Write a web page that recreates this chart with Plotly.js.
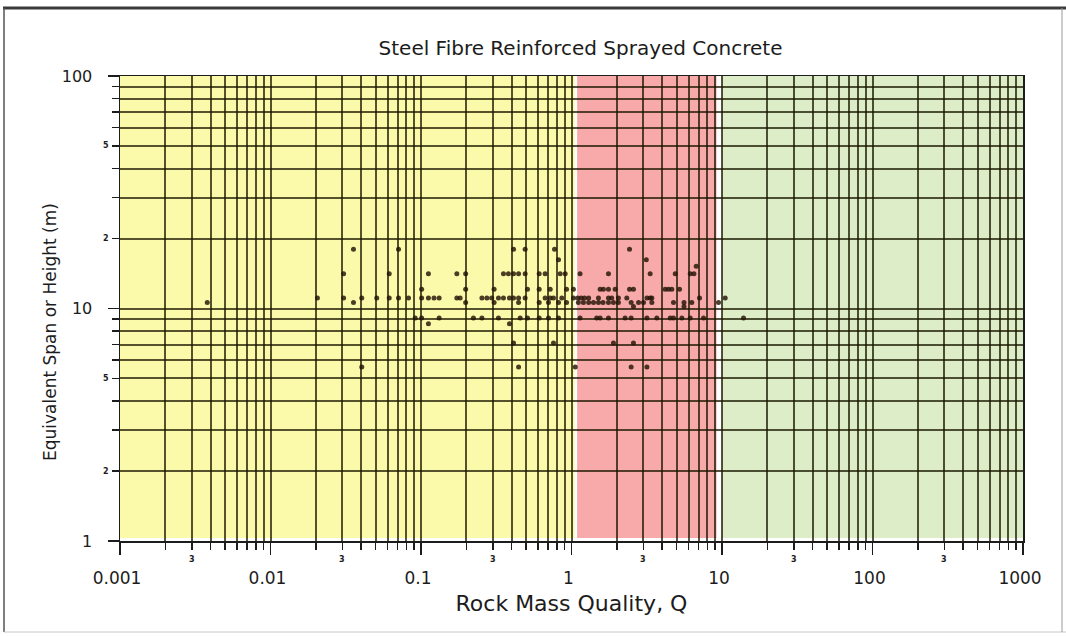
<!DOCTYPE html>
<html>
<head>
<meta charset="utf-8">
<script src="https://cdn.plot.ly/plotly-3.0.1.min.js"></script>
<style>
html,body{margin:0;padding:0;background:#ffffff;}
#chart{width:1066px;height:636px;}
</style>
</head>
<body>
<div id="chart"></div>
<script>
// ---- Data (Q = Rock Mass Quality, span = Equivalent span or height, m) ----
const qValues = [
  0.0038, 0.0205, 0.0306, 0.0306, 0.0356, 0.0356, 0.0404, 0.0404, 0.0508, 0.0615,
  0.0615, 0.0709, 0.0709, 0.0826, 0.0915, 0.101, 0.101, 0.101, 0.112, 0.112,
  0.112, 0.122, 0.132, 0.132, 0.173, 0.198, 0.173, 0.182, 0.198, 0.198,
  0.223, 0.254, 0.254, 0.274, 0.295, 0.327, 0.353, 0.387, 0.412, 0.445,
  0.492, 0.306, 0.306, 0.327, 0.387, 0.353, 0.381, 0.412, 0.445, 0.492,
  0.412, 0.492, 0.412, 0.445, 0.445, 0.456, 0.510, 0.510, 0.610, 0.668,
  0.610, 0.610, 0.703, 0.668, 0.722, 0.759, 0.610, 0.703, 0.820, 0.771,
  0.820, 0.841, 0.908, 0.722, 0.927, 0.759, 0.820, 0.927, 0.862, 1.03,
  1.03, 1.06,
  1.14, 1.76, 2.43, 3.14, 3.33, 4.89, 6.15, 6.51, 6.74,
  1.55, 1.63, 1.76, 1.95, 2.43, 2.58, 4.19, 4.41, 4.64, 5.22,
  1.10, 1.16, 1.22, 1.30, 1.51, 1.76, 1.85, 2.05, 2.33, 3.17, 3.33, 3.42, 7.09, 10.5,
  1.11, 1.20, 1.30, 1.40, 1.51, 1.62, 1.76, 1.90, 2.05, 2.49, 2.79, 3.01, 3.42, 4.76, 5.59, 6.30, 9.48,
  2.58, 5.59,
  1.14, 1.47, 1.55, 1.76, 2.27, 2.49, 3.17, 3.69, 4.53, 4.76, 5.41, 6.15, 7.54, 13.9,
  1.90, 2.58,
  2.49, 3.17
];
const spanValues = [
  10.6, 11.1, 14.1, 11.1, 18.0, 10.6, 5.6, 11.1, 11.1, 14.1,
  11.1, 18.0, 11.1, 11.1, 9.1, 12.1, 11.1, 9.1, 14.1, 11.1,
  8.6, 11.1, 11.1, 9.1, 14.1, 14.1, 11.1, 11.1, 12.1, 10.6,
  9.1, 9.1, 11.1, 11.1, 11.1, 11.1, 11.1, 11.1, 11.1, 11.1,
  11.1, 12.1, 10.6, 9.1, 8.6, 14.1, 14.1, 14.1, 14.1, 14.1,
  18.0, 18.0, 7.1, 10.6, 5.6, 9.1, 9.1, 12.1, 14.1, 14.1,
  12.1, 10.6, 10.6, 11.1, 11.1, 11.1, 9.1, 9.1, 9.1, 18.0,
  16.2, 14.1, 14.1, 12.1, 12.1, 7.1, 10.6, 10.6, 11.1, 12.1,
  11.1, 5.6,
  14.1, 14.1, 18.0, 16.2, 14.1, 14.1, 14.1, 14.1, 15.2,
  12.1, 12.1, 12.1, 12.1, 12.1, 12.1, 12.1, 12.1, 12.1, 12.1,
  11.1, 11.1, 11.1, 11.1, 11.1, 11.1, 11.1, 11.1, 11.1, 11.1, 11.1, 11.1, 11.1, 11.1,
  10.6, 10.6, 10.6, 10.6, 10.6, 10.6, 10.6, 10.6, 10.6, 10.6, 10.6, 10.6, 10.6, 10.6, 10.6, 10.6, 10.6,
  10.2, 10.2,
  9.1, 9.1, 9.1, 9.1, 9.1, 9.1, 9.1, 9.1, 9.1, 9.1, 9.1, 9.1, 9.1, 9.1,
  7.1, 7.1,
  5.6, 5.6
];

// Axis tick labels
const xTickVals = [0.001, 0.01, 0.1, 1, 10, 100, 1000];
const xTickText = ['0.001', '0.01', '0.1', '1', '10', '100', '1000'];
const yTickVals = [1, 10, 100];
const yTickText = ['1', '10', '100'];
const xSubLabelVals = [0.003, 0.03, 0.3, 3, 30, 300];
const xSubLabelText = ['3', '3', '3', '3', '3', '3'];
const ySubLabelVals = [2, 5, 20, 50];
const ySubLabelText = ['2', '5', '2', '5'];

// Support-category zones along Q
const zoneStart = [0.001, 1.09, 10];
const zoneEnd = [1.05, 9.2, 1000];
const zoneBottom = 1.03;
const zoneTop = 100;
const zoneColors = ['#fbfaab', '#f8aaaa', '#dcedc8'];

// Minor grid positions (2..9 in each decade)
function minorVals(d0, d1) {
  const out = [];
  for (let d = d0; d < d1; d++) {
    for (let m = 2; m <= 9; m++) out.push(m * Math.pow(10, d));
  }
  return out;
}

const GRID = 'rgba(25,22,0,0.74)';
const INK = '#1c1c1c';
const FONT = 'DejaVu Sans, Verdana, sans-serif';

const trace = {
  type: 'scatter',
  mode: 'markers',
  x: qValues,
  y: spanValues,
  marker: {size: 5, color: 'rgba(35,20,5,0.82)'},
  hoverinfo: 'x+y'
};

const shapes = [];
for (let i = 0; i < zoneStart.length; i++) {
  shapes.push({
    type: 'rect', layer: 'below', xref: 'x', yref: 'y',
    x0: zoneStart[i], x1: zoneEnd[i],
    y0: zoneBottom, y1: zoneTop,
    fillcolor: zoneColors[i], line: {width: 0}
  });
}
// page frame (scanned figure border)
const px = v => (v - 120) / 903;
const py = v => (541 - v) / 465;
shapes.push({type: 'line', xref: 'paper', yref: 'paper', x0: px(3), x1: px(1066), y0: py(8), y1: py(8), line: {color: '#3a3a3a', width: 3}});
shapes.push({type: 'line', xref: 'paper', yref: 'paper', x0: px(4), x1: px(4), y0: py(8), y1: py(632), line: {color: '#555', width: 1.5}});
shapes.push({type: 'line', xref: 'paper', yref: 'paper', x0: px(4), x1: px(1066), y0: py(632), y1: py(632), line: {color: '#c8c8c8', width: 1}});
shapes.push({type: 'line', xref: 'paper', yref: 'paper', x0: px(1062), x1: px(1062), y0: py(8), y1: py(632), line: {color: '#9a9a9a', width: 1}});

const annotations = [];
for (let i = 0; i < xSubLabelVals.length; i++) {
  annotations.push({
    xref: 'x', yref: 'paper', x: Math.log10(xSubLabelVals[i]), y: 0,
    text: '<b>' + xSubLabelText[i] + '</b>', showarrow: false,
    xanchor: 'center', yanchor: 'top', yshift: -12,
    font: {family: FONT, size: 8, color: INK}
  });
}
for (let i = 0; i < ySubLabelVals.length; i++) {
  annotations.push({
    xref: 'paper', yref: 'y', x: 0, y: Math.log10(ySubLabelVals[i]),
    text: '<b>' + ySubLabelText[i] + '</b>', showarrow: false,
    xanchor: 'right', yanchor: 'middle', xshift: -9,
    font: {family: FONT, size: 8, color: INK}
  });
}
// y-axis title (placed as in the reference, slightly below the plot centre)
annotations.push({
  xref: 'paper', yref: 'paper', x: px(50), y: py(332),
  xanchor: 'center', yanchor: 'middle', textangle: -90, showarrow: false,
  text: 'Equivalent Span or Height (m)',
  font: {family: FONT, size: 17, color: INK}
});

const layout = {
  width: 1066, height: 636,
  margin: {l: 120, r: 43, t: 76, b: 95, pad: 0},
  paper_bgcolor: '#ffffff', plot_bgcolor: '#ffffff',
  showlegend: false,
  font: {family: FONT, color: INK},
  title: {
    text: 'Steel Fibre Reinforced Sprayed Concrete',
    font: {family: FONT, size: 20, color: INK},
    xref: 'paper', x: 0.51, xanchor: 'center',
    yref: 'container', y: 1 - 48 / 636, yanchor: 'middle'
  },
  xaxis: {
    type: 'log', range: [-3, 3], fixedrange: true, automargin: false,
    tickmode: 'array', tickvals: xTickVals, ticktext: xTickText,
    ticks: 'outside', ticklen: 12, tickwidth: 1.5, tickcolor: INK,
    tickfont: {family: FONT, size: 17, color: INK},
    ticklabelshift: -3, ticklabelstandoff: 9,
    showline: true, linecolor: INK, linewidth: 1.5, mirror: true,
    showgrid: true, gridcolor: GRID, gridwidth: 2, zeroline: false,
    minor: {tickmode: 'array', tickvals: minorVals(-3, 3), ticks: 'outside', ticklen: 7, tickwidth: 1.5,
            tickcolor: INK, showgrid: true, gridcolor: GRID, gridwidth: 2},
    title: {text: 'Rock Mass Quality, Q', font: {family: FONT, size: 22, color: INK}, standoff: 8}
  },
  yaxis: {
    type: 'log', range: [0, 2], fixedrange: true, automargin: false,
    tickmode: 'array', tickvals: yTickVals, ticktext: yTickText,
    ticks: 'outside', ticklen: 11, tickwidth: 1.5, tickcolor: INK,
    tickfont: {family: FONT, size: 16, color: INK},
    ticklabelstandoff: 12,
    showline: true, linecolor: INK, linewidth: 1.5, mirror: true,
    showgrid: true, gridcolor: GRID, gridwidth: 2, zeroline: false,
    minor: {tickmode: 'array', tickvals: minorVals(0, 2), ticks: 'outside', ticklen: 7, tickwidth: 1.5,
            tickcolor: INK, showgrid: true, gridcolor: GRID, gridwidth: 2}
  },
  shapes: shapes,
  annotations: annotations
};

Plotly.newPlot('chart', [trace], layout, {displayModeBar: false, staticPlot: true});
</script>
</body>
</html>
